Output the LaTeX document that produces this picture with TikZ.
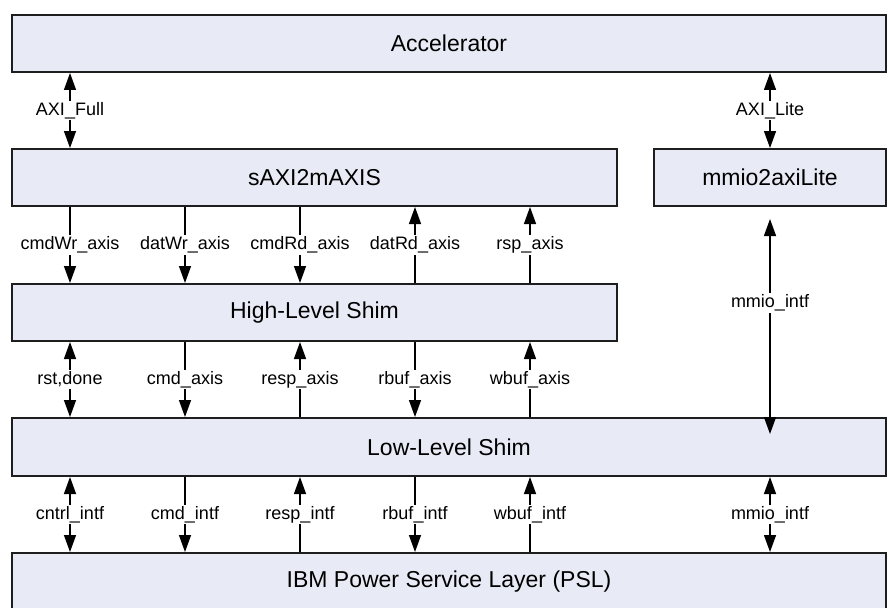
\documentclass[tikz,border=0pt]{standalone}
\usepackage{fontspec}
\setmainfont{Liberation Sans}
\usetikzlibrary{arrows.meta,calc}
\definecolor{boxfill}{RGB}{232,235,245}
\definecolor{boxline}{RGB}{30,30,30}
\begin{document}
\begin{tikzpicture}[x=1pt,y=-1pt,
  blk/.style={draw=boxline,line width=2pt,fill=boxfill,inner sep=0pt,
    font=\fontsize{23}{26}\selectfont},
  lbl/.style={fill=white,inner xsep=0pt,inner ysep=1.5pt,
    font=\fontsize{18}{20}\selectfont},
  conn/.style={line width=1.4pt,black},
  tip/.style={-{Triangle[length=17pt,width=12pt]}},
  both/.style={{Triangle[length=17pt,width=12pt]}-{Triangle[length=17pt,width=12pt]}},
  back/.style={{Triangle[length=17pt,width=12pt]}-}]
\useasboundingbox (0,0) rectangle (890,607);
\begin{scope}
\clip (0,0) rectangle (890,607);
\node[blk,minimum width=874pt,minimum height=57pt] (acc) at (449,43.5) {Accelerator};
\node[blk,minimum width=605pt,minimum height=57pt] (saxi) at (314.5,177.5) {sAXI2mAXIS};
\node[blk,minimum width=232pt,minimum height=57pt] (mmio) at (770,177.5) {mmio2axiLite};
\node[blk,minimum width=605pt,minimum height=57pt] (hls) at (314.5,312.5) {High-Level Shim};
\node[blk,minimum width=874pt,minimum height=58pt] (lls) at (449,447) {Low-Level Shim};
\node[blk,minimum width=874pt,minimum height=57pt] (psl) at (449,581.5) {IBM Power Service Layer (PSL)};
\end{scope}

% Accelerator <-> sAXI2mAXIS / mmio2axiLite
\draw[conn,both] (acc.south -| 70,0) -- node[lbl]{AXI\_Full} (saxi.north -| 70,0);
\draw[conn,both] (acc.south -| mmio.north) -- node[lbl]{AXI\_Lite} (mmio.north);

% sAXI2mAXIS <-> High-Level Shim
\draw[conn,tip] (saxi.south -| 70,0) -- node[lbl]{cmdWr\_axis} (hls.north -| 70,0);
\draw[conn,tip] (saxi.south -| 185,0) -- node[lbl]{datWr\_axis} (hls.north -| 185,0);
\draw[conn,tip] (saxi.south -| 300,0) -- node[lbl]{cmdRd\_axis} (hls.north -| 300,0);
\draw[conn,back] (saxi.south -| 415,0) -- node[lbl]{datRd\_axis} (hls.north -| 415,0);
\draw[conn,back] (saxi.south -| 530,0) -- node[lbl]{rsp\_axis} (hls.north -| 530,0);

% High-Level Shim <-> Low-Level Shim
\draw[conn,both] (hls.south -| 70,0) -- node[lbl]{rst,done} (lls.north -| 70,0);
\draw[conn,tip] (hls.south -| 185,0) -- node[lbl]{cmd\_axis} (lls.north -| 185,0);
\draw[conn,back] (hls.south -| 300,0) -- node[lbl]{resp\_axis} (lls.north -| 300,0);
\draw[conn,tip] (hls.south -| 415,0) -- node[lbl]{rbuf\_axis} (lls.north -| 415,0);
\draw[conn,back] (hls.south -| 530,0) -- node[lbl]{wbuf\_axis} (lls.north -| 530,0);

% mmio2axiLite <-> Low-Level Shim
\coordinate (mtop) at ($(mmio.south)+(0,12)$);
\coordinate (mbot) at ($(lls.north -| mmio.south)+(0,17)$);
\draw[conn,both] (mtop) -- node[lbl,pos=0.39]{mmio\_intf} (mbot);

% Low-Level Shim <-> PSL
\draw[conn,both] (lls.south -| 70,0) -- node[lbl]{cntrl\_intf} (psl.north -| 70,0);
\draw[conn,tip] (lls.south -| 185,0) -- node[lbl]{cmd\_intf} (psl.north -| 185,0);
\draw[conn,back] (lls.south -| 300,0) -- node[lbl]{resp\_intf} (psl.north -| 300,0);
\draw[conn,tip] (lls.south -| 415,0) -- node[lbl]{rbuf\_intf} (psl.north -| 415,0);
\draw[conn,back] (lls.south -| 530,0) -- node[lbl]{wbuf\_intf} (psl.north -| 530,0);
\draw[conn,both] (lls.south -| mmio.south) -- node[lbl]{mmio\_intf} (psl.north -| mmio.south);
\end{tikzpicture}
\end{document}
